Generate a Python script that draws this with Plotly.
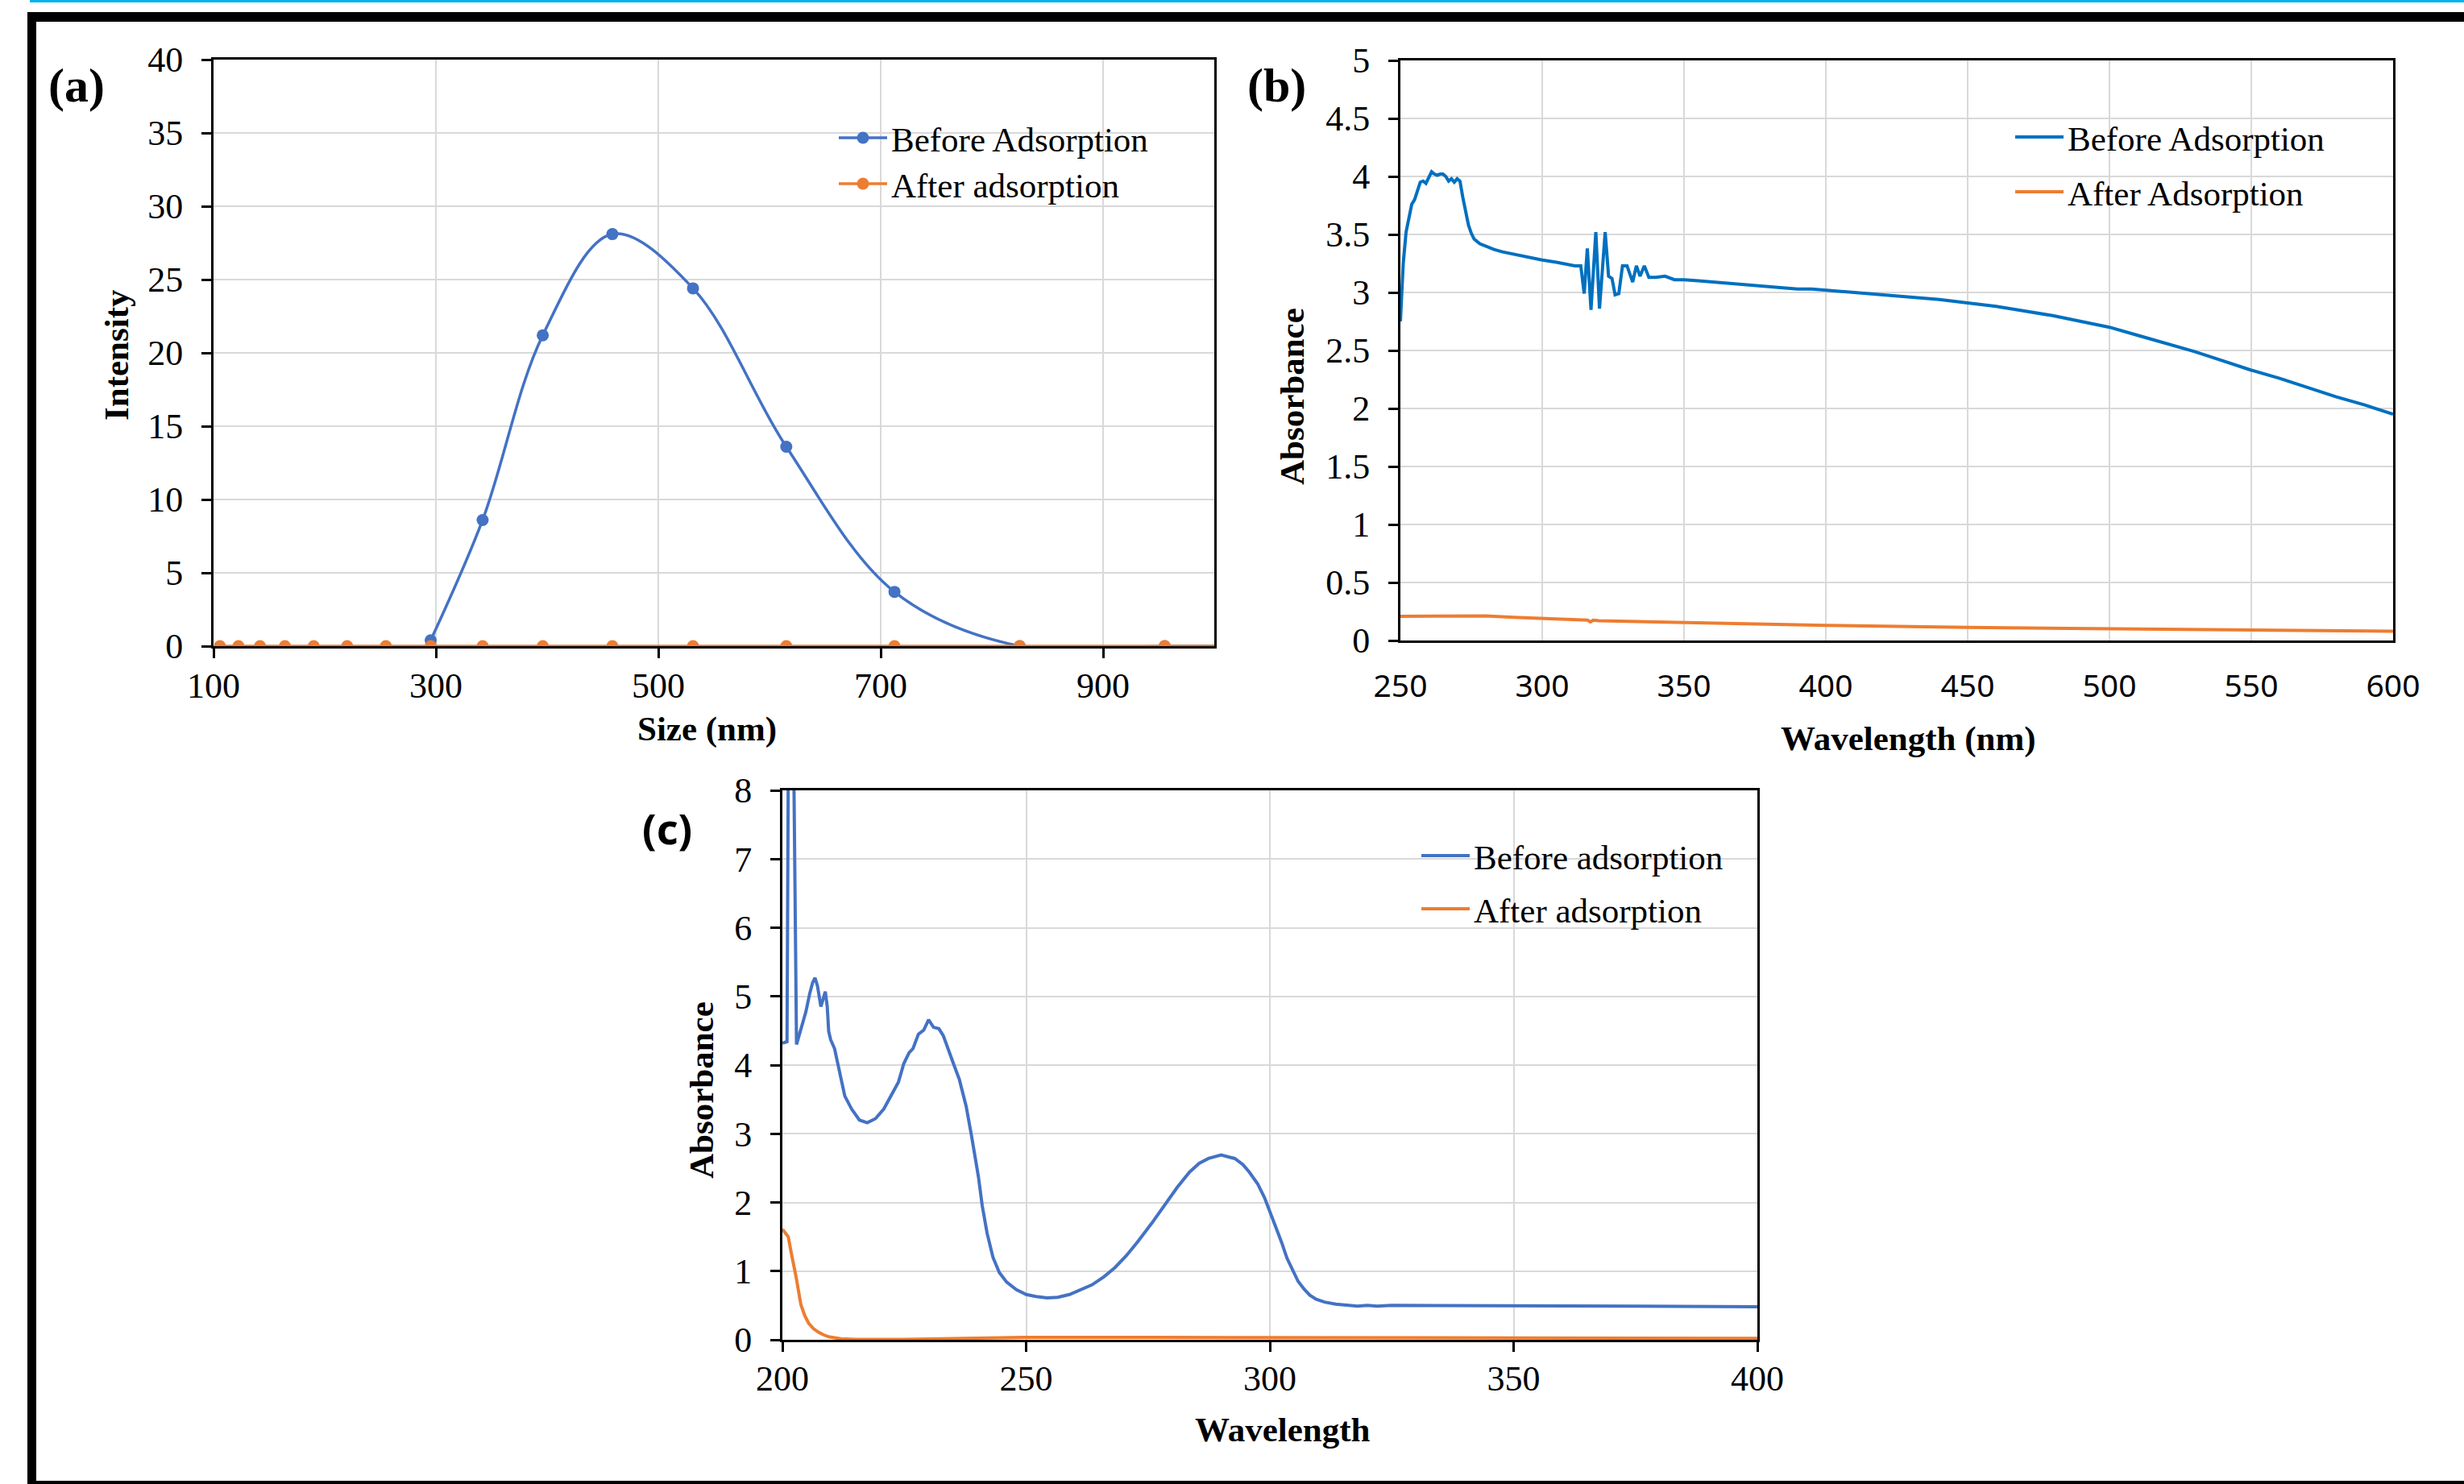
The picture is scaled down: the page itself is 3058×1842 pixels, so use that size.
import plotly.graph_objects as go

W, H = 3058, 1842

# ---------------- Panel (a): DLS size distribution ----------------
a_size_nm = [105.7, 122.4, 141.8, 164.2, 190.1, 220.2, 255.0, 295.3, 342.0,
             396.1, 458.7, 531.2, 615.1, 712.4, 825.0, 955.4, 1106.0]
a_before = [None, None, None, None, None, None, None, 0.4, 8.6,
            21.2, 28.1, 24.4, 13.6, 3.7, 0.0, 0.0, 0.0]
a_after = [0.0, 0.0, 0.0, 0.0, 0.0, 0.0, 0.0, 0.0, 0.0,
           0.0, 0.0, 0.0, 0.0, 0.0, 0.0, 0.0, 0.0]

# ---------------- Panel (b): UV-vis 250-600 nm ----------------
b_wl = [250, 251, 252, 253, 254, 255, 256, 257, 258, 259, 260, 261, 262, 263, 264,
        265, 266, 267, 268, 269, 270, 271, 272, 273, 274, 275, 276, 278, 280, 283,
        286, 290, 295, 300, 305, 310, 311.5, 313.6, 314.8, 315.9, 317.2, 318.9, 320.2,
        322.2, 323.4, 324.6, 325.7, 327.0, 328.3, 329.9, 331.9, 333.2, 334.5, 336.0,
        337.6, 340.1, 343.3, 346.6, 350, 355, 360, 365, 370, 375, 380, 385, 390,
        395, 400, 410, 420, 430, 440, 450, 460, 470, 480, 490, 500, 510, 520, 530,
        540, 550, 560, 570, 580, 590, 600]
b_before = [2.75, 3.25, 3.52, 3.65, 3.76, 3.80, 3.88, 3.95, 3.96, 3.94, 3.99, 4.04, 4.02, 4.01, 4.02,
            4.02, 4.00, 3.96, 3.98, 3.95, 3.98, 3.96, 3.82, 3.68, 3.58, 3.51, 3.46, 3.42, 3.40, 3.37,
            3.35, 3.33, 3.30, 3.28, 3.26, 3.24, 3.23, 3.23, 2.99, 3.38, 2.85, 3.52, 2.86,
            3.52, 3.14, 3.12, 2.98, 2.99, 3.23, 3.23, 3.09, 3.23, 3.14, 3.23,
            3.13, 3.13, 3.14, 3.11, 3.11, 3.10, 3.09, 3.08, 3.07, 3.06, 3.05, 3.04, 3.03,
            3.03, 3.02, 3.00, 2.98, 2.96, 2.94, 2.91, 2.88, 2.84, 2.80, 2.75, 2.70, 2.63, 2.56, 2.49,
            2.41, 2.33, 2.26, 2.18, 2.10, 2.03, 1.95]
b_wl_after = [250, 260, 270, 275, 280, 290, 300, 310, 316, 317, 318, 320, 330, 350,
              400, 450, 500, 550, 600]
b_after = [0.208, 0.210, 0.212, 0.215, 0.212, 0.200, 0.190, 0.180, 0.175, 0.160, 0.175,
           0.170, 0.165, 0.155, 0.130, 0.112, 0.100, 0.090, 0.080]

# ---------------- Panel (c): UV-vis 200-400 nm ----------------
c_wl = [200.0, 200.95, 201.25, 202.25, 202.9, 203.5, 204.0, 204.8, 205.6, 206.2, 206.7,
        207.2, 207.9, 208.3, 208.8, 209.2, 209.5, 209.9, 210.7, 211.7, 212.8, 214.2,
        215.8, 217.4, 219.1, 220.8, 222.4, 223.8, 224.9, 226.0, 226.8, 227.9, 229.0,
        230.0, 231.0, 232.1, 233.0, 234.1, 235.2, 236.3, 237.7, 238.8, 240.2, 241.0,
        242.0, 243.2, 244.5, 246.0, 248.0, 250.0, 252.0, 254.3, 256.5, 258.9, 261.0,
        263.5, 266.0, 268.2, 270.5, 272.8, 275.8, 278.9, 281.0, 283.5, 285.5, 287.4,
        290.0, 292.8, 294.5, 295.8, 297.5, 298.9, 300.0, 301.2, 302.4, 303.5, 304.7,
        305.8, 307.0, 308.2, 309.5, 311.2, 313.5, 316.6, 318, 320, 322, 325, 330, 335,
        350, 375, 400]
c_before = [4.32, 4.34, 9.0, 9.0, 4.30, 4.45, 4.57, 4.77, 5.04, 5.20, 5.27,
            5.15, 4.85, 4.95, 5.07, 4.85, 4.49, 4.37, 4.24, 3.91, 3.55, 3.36,
            3.20, 3.16, 3.22, 3.36, 3.57, 3.75, 4.02, 4.18, 4.24, 4.45, 4.51,
            4.66, 4.55, 4.53, 4.43, 4.20, 4.00, 3.79, 3.40, 2.97, 2.38, 1.95,
            1.55, 1.20, 0.98, 0.84, 0.73, 0.66, 0.63, 0.61, 0.62, 0.66, 0.72,
            0.80, 0.92, 1.05, 1.22, 1.42, 1.70, 2.00, 2.22, 2.44, 2.57, 2.64,
            2.69, 2.64, 2.55, 2.44, 2.27, 2.07, 1.87, 1.66, 1.42, 1.19, 1.00,
            0.85, 0.74, 0.65, 0.59, 0.55, 0.52, 0.50, 0.49, 0.50, 0.49, 0.50, 0.50, 0.49,
            0.49, 0.49, 0.48]
c_wl_after = [200.0, 200.6, 201.2, 202.0, 202.8, 203.8, 204.6, 205.4, 206.4, 207.4,
              208.5, 209.7, 212, 215, 220, 225, 230, 240, 250, 275, 300, 350, 400]
c_after = [1.61, 1.55, 1.50, 1.20, 0.92, 0.51, 0.35, 0.24, 0.16, 0.11,
           0.07, 0.04, 0.015, 0.005, 0.0, 0.005, 0.012, 0.025, 0.035, 0.035, 0.03, 0.022, 0.02]

# ---------------- styling helpers ----------------
SERIF = "Liberation Serif"
SANS = "Noto Sans"
BLUE_A = "#4472C4"
BLUE_B = "#0070C0"
ORANGE = "#ED7D31"
GRID = "#D9D9D9"
LW = 4


def px_x(v):
    return v / W


def px_y(v):
    return 1 - v / H


fig = go.Figure()

fig.add_trace(go.Scatter(x=a_size_nm, y=a_before, mode="lines+markers", name="Before Adsorption",
                         line=dict(color=BLUE_A, width=3.5, shape="spline"),
                         marker=dict(size=15, color=BLUE_A), xaxis="x", yaxis="y",
                         legend="legend", showlegend=True))
fig.add_trace(go.Scatter(x=a_size_nm, y=a_after, mode="lines+markers", name="After adsorption",
                         line=dict(color=ORANGE, width=3.5, shape="spline"),
                         marker=dict(size=15, color=ORANGE), xaxis="x", yaxis="y",
                         legend="legend2", showlegend=True))
fig.add_trace(go.Scatter(x=b_wl, y=b_before, mode="lines", name="Before Adsorption",
                         line=dict(color=BLUE_B, width=LW), xaxis="x2", yaxis="y2",
                         legend="legend3", showlegend=True))
fig.add_trace(go.Scatter(x=b_wl_after, y=b_after, mode="lines", name="After Adsorption",
                         line=dict(color=ORANGE, width=LW), xaxis="x2", yaxis="y2",
                         legend="legend4", showlegend=True))
fig.add_trace(go.Scatter(x=c_wl, y=c_before, mode="lines", name="Before adsorption",
                         line=dict(color=BLUE_A, width=LW), xaxis="x3", yaxis="y3",
                         legend="legend5", showlegend=True))
fig.add_trace(go.Scatter(x=c_wl_after, y=c_after, mode="lines", name="After adsorption",
                         line=dict(color=ORANGE, width=LW), xaxis="x3", yaxis="y3",
                         legend="legend6", showlegend=True))


def axis(rng, dtick, tick0, domain, anchor, ticks="outside", font=SERIF, fsize=44, standoff=14):
    return dict(range=rng, dtick=dtick, tick0=tick0, domain=domain, anchor=anchor,
                showline=True, linecolor="black", linewidth=3, mirror=True,
                showgrid=True, gridcolor=GRID, gridwidth=2, zeroline=False,
                ticks=ticks, ticklen=12, tickwidth=3, tickcolor="black",
                tickfont=dict(family=font, size=fsize, color="black"),
                ticklabelstandoff=standoff, fixedrange=True, automargin=False)


# panel domains (pixel boxes)
a_box = (265, 1507, 74, 802)
b_box = (1738, 2970, 75, 795)
c_box = (971, 2181, 981, 1663)


def dom_x(b):
    return [px_x(b[0]), px_x(b[1])]


def dom_y(b):
    return [px_y(b[3]), px_y(b[2])]


layout = dict(
    width=W, height=H, margin=dict(l=0, r=0, t=0, b=0, autoexpand=False),
    paper_bgcolor="white", plot_bgcolor="white", showlegend=True,
    xaxis=axis([100, 1000], 200, 100, dom_x(a_box), "y", standoff=-4),
    yaxis=axis([0, 40], 5, 0, dom_y(a_box), "x"),
    xaxis2=axis([250, 600], 50, 250, dom_x(b_box), "y2", ticks="", font=SANS, fsize=39, standoff=20),
    yaxis2=axis([0, 5], 0.5, 0, dom_y(b_box), "x2"),
    xaxis3=axis([200, 400], 50, 200, dom_x(c_box), "y3", standoff=-5),
    yaxis3=axis([0, 8], 1, 0, dom_y(c_box), "x3"),
)


def leg(x, y):
    return dict(x=px_x(x), y=px_y(y), xanchor="left", yanchor="middle",
                bgcolor="rgba(0,0,0,0)", borderwidth=0, itemwidth=60, visible=True,
                font=dict(family=SERIF, size=43, color="black"))


layout["legend"] = leg(1036, 171)
layout["legend2"] = leg(1036, 228)
layout["legend3"] = leg(2496, 170)
layout["legend4"] = leg(2496, 238)
layout["legend5"] = leg(1759, 1062)
layout["legend6"] = leg(1759, 1128)

fig.update_layout(**layout)


def ann(text, x, y, size=43, family=SERIF, angle=0):
    fig.add_annotation(text=text, x=px_x(x), y=px_y(y), xref="paper", yref="paper",
                       xanchor="center", yanchor="middle", showarrow=False, textangle=angle,
                       font=dict(family=family, size=size, color="black"))


ann("<b>Intensity</b>", 144, 441, angle=-90)
ann("<b>Size (nm)</b>", 877, 905)
ann("<b>Absorbance</b>", 1603, 492, angle=-90)
ann("<b>Wavelength (nm)</b>", 2368, 917)
ann("<b>Absorbance</b>", 870, 1353, angle=-90)
ann("<b>Wavelength</b>", 1591, 1774)
ann("<b>(a)</b>", 95, 106, size=60)
ann("<b>(b)</b>", 1584, 106, size=60)
ann("<b>(c)</b>", 828, 1027, size=52, family=SANS)


def rect(x0, y0, x1, y1, color):
    fig.add_shape(type="rect", xref="paper", yref="paper",
                  x0=px_x(x0), x1=px_x(x1), y0=px_y(y1), y1=px_y(y0),
                  fillcolor=color, line=dict(width=0), layer="above")


rect(37, 0, W, 3, "#00B0F0")
rect(34, 15, W, 27, "black")
rect(34, 15, 45, H, "black")
rect(34, 1838, W, H, "black")

fig.write_html("out.html", config={"displayModeBar": False},
               post_script="document.body.style.margin='0';document.body.style.overflow='hidden';")
